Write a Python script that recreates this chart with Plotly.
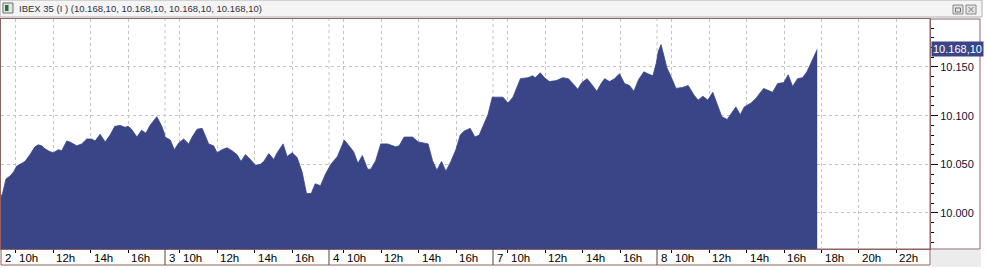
import plotly.graph_objects as go

# ---------------- data ----------------
days = ["2", "3", "4", "7", "8"]

day2_times = ["09:12", "09:17", "09:28", "09:41", "09:52", "10:02", "10:13", "10:29", "10:45",
              "11:01", "11:11", "11:23", "11:33", "11:49", "12:00", "12:16", "12:27", "12:43",
              "12:53", "13:15", "13:31", "13:47", "14:03", "14:14", "14:30", "14:46", "15:02",
              "15:17", "15:34", "15:50", "16:00", "16:11", "16:28", "16:43", "16:57", "17:10",
              "17:32", "17:48", "17:57"]
day2_values = [10.017, 10.020, 10.035, 10.038, 10.042, 10.048, 10.050, 10.053, 10.060,
               10.068, 10.070, 10.069, 10.066, 10.063, 10.062, 10.065, 10.064, 10.074,
               10.073, 10.069, 10.071, 10.076, 10.076, 10.074, 10.081, 10.073, 10.080,
               10.089, 10.090, 10.088, 10.089, 10.086, 10.078, 10.085, 10.082, 10.090,
               10.099, 10.089, 10.081]

day3_times = ["09:12", "09:29", "09:42", "09:56", "10:12", "10:28", "10:39", "10:55", "11:11",
              "11:18", "11:32", "11:48", "11:59", "12:15", "12:31", "12:47", "13:03", "13:16",
              "13:30", "13:46", "14:02", "14:18", "14:29", "14:45", "15:01", "15:12", "15:31",
              "15:44", "16:00", "16:16", "16:32", "16:46", "17:01", "17:14", "17:31", "17:47",
              "17:56"]
day3_values = [10.078, 10.075, 10.065, 10.072, 10.076, 10.071, 10.078, 10.086, 10.087,
               10.082, 10.071, 10.069, 10.062, 10.065, 10.067, 10.064, 10.060, 10.053,
               10.060, 10.055, 10.049, 10.050, 10.053, 10.061, 10.055, 10.062, 10.071,
               10.058, 10.062, 10.057, 10.042, 10.020, 10.020, 10.030, 10.028, 10.040,
               10.046]

day4_times = ["09:18", "09:39", "10:01", "10:16", "10:31", "10:45", "10:59", "11:16", "11:26",
              "11:42", "11:58", "12:20", "12:46", "12:57", "13:13", "13:40", "13:58", "14:15",
              "14:30", "14:44", "14:58", "15:13", "15:27", "15:43", "15:59", "16:13", "16:25",
              "16:45", "17:00", "17:14", "17:29", "17:42", "17:56"]
day4_values = [10.050, 10.058, 10.075, 10.069, 10.063, 10.051, 10.059, 10.045, 10.045,
               10.054, 10.071, 10.071, 10.068, 10.069, 10.078, 10.078, 10.073, 10.072,
               10.071, 10.054, 10.044, 10.053, 10.043, 10.053, 10.065, 10.080, 10.084,
               10.087, 10.078, 10.080, 10.092, 10.101, 10.119]

day7_times = ["09:12", "09:28", "09:44", "10:00", "10:16", "10:40", "11:04", "11:20", "11:27",
              "11:44", "11:57", "12:13", "12:35", "12:56", "13:14", "13:28", "13:44", "13:57",
              "14:14", "14:29", "14:45", "14:59", "15:10", "15:26", "15:42", "15:58", "16:14",
              "16:30", "16:44", "16:59", "17:16", "17:29", "17:45", "17:56"]
day7_values = [10.119, 10.119, 10.119, 10.113, 10.119, 10.138, 10.139, 10.141, 10.139,
               10.144, 10.139, 10.135, 10.136, 10.139, 10.138, 10.133, 10.127, 10.134,
               10.138, 10.132, 10.125, 10.133, 10.138, 10.135, 10.138, 10.143, 10.133,
               10.131, 10.125, 10.137, 10.145, 10.143, 10.141, 10.154]

day8_times = ["09:16", "09:25", "09:33", "09:44", "09:57", "10:13", "10:34", "10:52", "11:11",
              "11:24", "11:39", "11:55", "12:11", "12:25", "12:40", "12:57", "13:12", "13:25",
              "13:39", "13:52", "14:14", "14:30", "14:54", "15:07", "15:23", "15:39", "15:59",
              "16:13", "16:27", "16:43", "16:59", "17:13", "17:32", "17:46"]
day8_values = [10.166, 10.173, 10.164, 10.149, 10.140, 10.128, 10.129, 10.131, 10.121,
               10.116, 10.120, 10.116, 10.124, 10.111, 10.099, 10.096, 10.103, 10.109,
               10.101, 10.109, 10.113, 10.118, 10.128, 10.126, 10.124, 10.133, 10.134,
               10.142, 10.130, 10.138, 10.139, 10.145, 10.159, 10.168]

hour_ticks = [10, 12, 14, 16]
extra_hour_ticks = [18, 20, 22]
y_ticks = [10.000, 10.050, 10.100, 10.150]
y_tick_text = ["10.000", "10.050", "10.100", "10.150"]
last_label = "10.168,10"
title_text = "IBEX 35 (I ) (10.168,10, 10.168,10, 10.168,10, 10.168,10)"

# ---------------- geometry / style ----------------
W, H = 986, 269
ML, MR, MT, MB = 1, 56, 19, 20
PW = W - ML - MR
PH = H - MT - MB
PX_PER_H = 18.7
DAY_START = 9.2
DAY_LEN = 164 / PX_PER_H
XMAX = PW / PX_PER_H
YMIN, YMAX = 9.963, 10.1993

FILL = "#3a4587"
FRAME = "#8e6262"
GRID = "#c4c4c4"
FONT = "Liberation Sans, Arial, sans-serif"


def xpos(k, hhmm):
    h, m = hhmm.split(":")
    return k * DAY_LEN + (int(h) + int(m) / 60.0 - DAY_START)


def fx(px):
    return (px - ML) / PW


def fy(py):
    return (H - MB - py) / PH


all_times = [day2_times, day3_times, day4_times, day7_times, day8_times]
all_values = [day2_values, day3_values, day4_values, day7_values, day8_values]
xs, ys = [], []
for k, (tt, vv) in enumerate(zip(all_times, all_values)):
    for t, v in zip(tt, vv):
        xs.append(xpos(k, t))
        ys.append(v)

fig = go.Figure()
fig.add_trace(go.Scatter(x=xs, y=ys, mode="lines", fill="tozeroy",
                         line=dict(color=FILL, width=0.8), fillcolor=FILL,
                         hoverinfo="skip", showlegend=False))

tick_vals, tick_text = [], []
for k in range(len(days)):
    for h in hour_ticks:
        tick_vals.append(xpos(k, f"{h}:00"))
        tick_text.append(f"{h}h")
for h in extra_hour_ticks:
    tick_vals.append(xpos(len(days) - 1, f"{h}:00"))
    tick_text.append(f"{h}h")
day_starts = [k * DAY_LEN for k in range(len(days))]

shapes = []
annotations = []

# day separator gridlines in plot
for ds in day_starts[1:]:
    shapes.append(dict(type="line", xref="x", yref="paper", x0=ds, x1=ds, y0=0, y1=1,
                       line=dict(color=GRID, width=1, dash="3px,3px"), layer="below"))
# x label band box
shapes.append(dict(type="rect", xref="paper", yref="paper", x0=fx(1), x1=1,
                   y0=fy(265), y1=0, line=dict(color=FRAME, width=1), fillcolor="white",
                   layer="below"))
# day separators in band
for ds in day_starts[1:]:
    shapes.append(dict(type="line", xref="paper", yref="paper", x0=ds / XMAX, x1=ds / XMAX,
                       y0=fy(265), y1=0, line=dict(color="#5a4040", width=1)))
# right value panel
shapes.append(dict(type="rect", xref="paper", yref="paper", x0=1, x1=fx(980),
                   y0=0, y1=1, line=dict(color=FRAME, width=1)))
# grey corner
shapes.append(dict(type="rect", xref="paper", yref="paper", x0=fx(931), x1=fx(981),
                   y0=fy(267), y1=fy(250), line=dict(width=0), fillcolor="#ececec",
                   layer="below"))
# title bar
shapes.append(dict(type="rect", xref="paper", yref="paper", x0=fx(0), x1=fx(982),
                   y0=fy(17), y1=fy(0), line=dict(color="#b0b0b0", width=1),
                   fillcolor="#f4f4f4", layer="below"))
# icon
shapes.append(dict(type="rect", xref="paper", yref="paper", x0=fx(3), x1=fx(13),
                   y0=fy(13), y1=fy(3), line=dict(color="#707070", width=1),
                   fillcolor="#dfe8df"))
shapes.append(dict(type="rect", xref="paper", yref="paper", x0=fx(5), x1=fx(8.5),
                   y0=fy(11), y1=fy(5), line=dict(width=0), fillcolor="#2f6b4f"))
# window buttons
for bx in (953, 966):
    shapes.append(dict(type="rect", xref="paper", yref="paper", x0=fx(bx), x1=fx(bx + 10),
                       y0=fy(14), y1=fy(5), line=dict(color="#8a8a8a", width=1),
                       fillcolor="#e2e2e2"))
shapes.append(dict(type="rect", xref="paper", yref="paper", x0=fx(955.5), x1=fx(960.5),
                   y0=fy(12), y1=fy(8), line=dict(color="#777777", width=1)))
shapes.append(dict(type="line", xref="paper", yref="paper", x0=fx(968.5), x1=fx(973.5),
                   y0=fy(12), y1=fy(7), line=dict(color="#777777", width=1)))
shapes.append(dict(type="line", xref="paper", yref="paper", x0=fx(968.5), x1=fx(973.5),
                   y0=fy(7), y1=fy(12), line=dict(color="#777777", width=1)))

# x labels
for k, d in enumerate(days):
    annotations.append(dict(x=day_starts[k], xref="x", y=fy(257.5), yref="paper",
                            text=d, showarrow=False, xanchor="left", yanchor="middle",
                            xshift=2, font=dict(family=FONT, size=11.5, color="#000000")))
for tv, tt in zip(tick_vals, tick_text):
    annotations.append(dict(x=tv, xref="x", y=fy(257.5), yref="paper",
                            text=tt, showarrow=False, xanchor="left", yanchor="middle",
                            xshift=1, font=dict(family=FONT, size=11.5, color="#000000")))
# last value label
annotations.append(dict(x=fx(931), xref="paper", y=ys[-1], yref="y", text=last_label,
                        showarrow=False, xanchor="left", yanchor="middle",
                        bgcolor=FILL, borderpad=1,
                        font=dict(family=FONT, size=11, color="#ffffff")))
# title
annotations.append(dict(x=fx(17), xref="paper", y=fy(8.5), yref="paper", text=title_text,
                        showarrow=False, xanchor="left", yanchor="middle",
                        font=dict(family=FONT, size=9.5, color="#303040")))

fig.update_layout(
    width=W, height=H,
    margin=dict(l=ML, r=MR, t=MT, b=MB, pad=0),
    paper_bgcolor="white", plot_bgcolor="white",
    showlegend=False,
    shapes=shapes, annotations=annotations,
    xaxis=dict(range=[0, XMAX], tickmode="array", tickvals=tick_vals,
               showticklabels=False, ticks="outside", ticklen=3, tickcolor="#000000",
               showgrid=True, gridcolor=GRID, griddash="3px,3px", gridwidth=1,
               showline=True, linecolor=FRAME, linewidth=1, mirror=True, zeroline=False,
               fixedrange=True),
    yaxis=dict(range=[YMIN, YMAX], side="right", tickmode="array", tickvals=y_ticks,
               ticktext=y_tick_text, ticks="outside", ticklen=7, tickcolor="#000000",
               tickfont=dict(family=FONT, size=11, color="#101030"),
               showgrid=True, gridcolor=GRID, griddash="3px,3px", gridwidth=1,
               showline=True, linecolor=FRAME, linewidth=1, mirror=True, zeroline=False,
               minor=dict(tickmode="linear", tick0=10.0, dtick=0.01, ticks="outside",
                          ticklen=3, tickcolor="#000000", showgrid=False),
               fixedrange=True),
)

fig.write_html("out.html", config={"displayModeBar": False})
